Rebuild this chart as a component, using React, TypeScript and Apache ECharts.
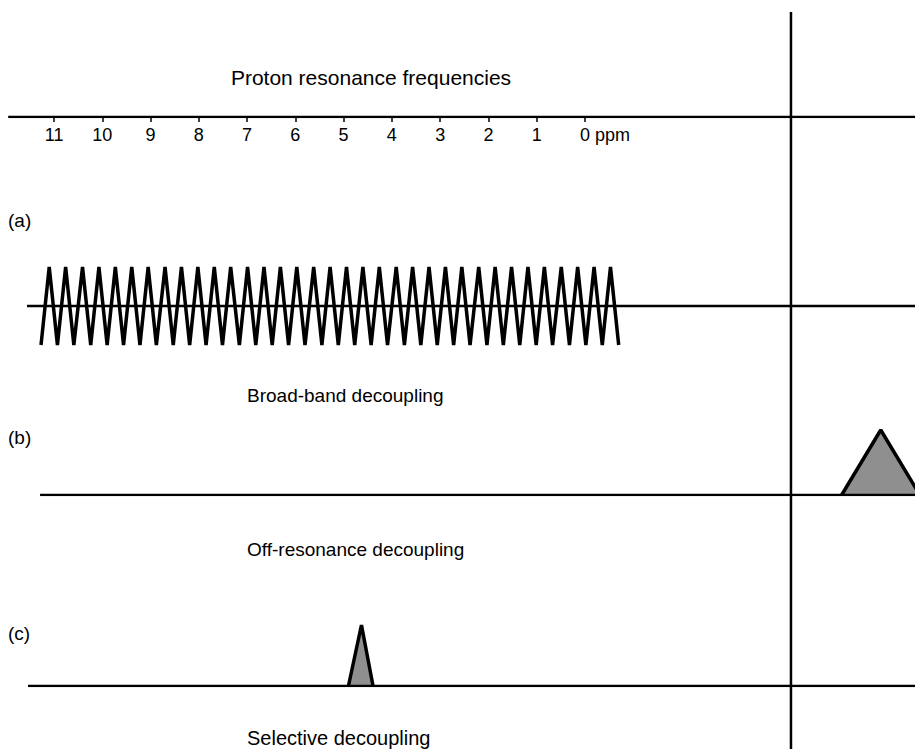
import React, { useEffect, useRef } from "react";
import * as echarts from "echarts";

// ---- data (chemical shift in ppm, relative intensities) ----
const ppmTicks = [11, 10, 9, 8, 7, 6, 5, 4, 3, 2, 1, 0];
const ppmMin = -6.84;
const ppmMax = 12.12;

const broadbandPeaksPpm = [
  11.1, 10.76, 10.41, 10.07, 9.73, 9.39, 9.05, 8.7, 8.36, 8.02, 7.68, 7.34,
  6.99, 6.65, 6.31, 5.97, 5.62, 5.28, 4.94, 4.6, 4.26, 3.91, 3.57, 3.23, 2.89,
  2.55, 2.2, 1.86, 1.52, 1.18, 0.84, 0.49, 0.15, -0.19, -0.53,
];
const broadbandTroughsPpm = [
  11.27, 10.93, 10.59, 10.24, 9.9, 9.56, 9.22, 8.88, 8.53, 8.19, 7.85, 7.51,
  7.16, 6.82, 6.48, 6.14, 5.8, 5.45, 5.11, 4.77, 4.43, 4.09, 3.74, 3.4, 3.06,
  2.72, 2.38, 2.03, 1.69, 1.35, 1.01, 0.67, 0.32, -0.02, -0.36, -0.7,
];
const broadbandPeakLevel = 1;
const broadbandTroughLevel = -1;

const offResonancePpm = [-5.32, -6.13, -6.94];
const offResonanceIntensity = [0, 1, 0];

const selectivePpm = [4.9, 4.63, 4.39];
const selectiveIntensity = [0, 1, 0];

const carbonMarkerPpm = -4.27;

// baselines: [start ppm, end ppm]
const axisBaseline = [11.95, ppmMin];
const baselineA = [11.56, ppmMin];
const baselineB = [11.29, ppmMin];
const baselineC = [11.54, ppmMin];

const labels = {
  title: "Proton resonance frequencies",
  a: "(a)",
  b: "(b)",
  c: "(c)",
  aName: "Broad-band decoupling",
  bName: "Off-resonance decoupling",
  cName: "Selective decoupling",
};

const FONT = "'Liberation Sans', Arial, Helvetica, sans-serif";

export default function App() {
  const ref = useRef<HTMLDivElement>(null);

  useEffect(() => {
    if (!ref.current) return;
    const chart = echarts.init(ref.current, null, { renderer: "svg" });

    const zigzag: number[][] = [];
    for (let i = 0; i < broadbandTroughsPpm.length; i++) {
      zigzag.push([broadbandTroughsPpm[i], broadbandTroughLevel]);
      if (i < broadbandPeaksPpm.length) {
        zigzag.push([broadbandPeaksPpm[i], broadbandPeakLevel]);
      }
    }

    const xBase = (gridIndex: number) => ({
      type: "value" as const,
      gridIndex,
      min: ppmMin,
      max: ppmMax,
      inverse: true,
      show: false,
    });
    const yBase = (gridIndex: number, min: number, max: number) => ({
      type: "value" as const,
      gridIndex,
      min,
      max,
      show: false,
    });

    const black = "#000";
    const lineSeries = (
      xi: number,
      data: number[][],
      width: number,
      extra: any = {}
    ) => ({
      type: "line",
      xAxisIndex: xi,
      yAxisIndex: xi,
      data,
      symbol: "none",
      silent: true,
      lineStyle: { color: black, width },
      ...extra,
    });

    const textStyle = (size: number) => ({
      fill: "#000",
      fontFamily: FONT,
      fontSize: size,
    });

    chart.setOption({
      animation: false,
      backgroundColor: "#fff",
      grid: [
        { left: 0, right: 0, top: 0, height: 117 },
        { left: 0, right: 0, top: 267, height: 78 },
        { left: 0, right: 0, top: 430, height: 65 },
        { left: 0, right: 0, top: 625, height: 61 },
        { left: 0, right: 0, top: 12, bottom: 0 },
      ],
      xAxis: [
        {
          type: "value",
          gridIndex: 0,
          min: ppmMin,
          max: ppmMax,
          inverse: true,
          position: "bottom",
          axisLine: { show: false },
          splitLine: { show: false },
          axisTick: {
            show: true,
            customValues: ppmTicks,
            length: 5,
            lineStyle: { color: black, width: 1.5 },
          },
          axisLabel: {
            show: true,
            customValues: ppmTicks,
            margin: 9,
            color: black,
            fontFamily: FONT,
            fontSize: 18,
            formatter: (v: number) =>
              v === 0 ? "{pad|}{v|0}{u| ppm}" : String(v),
            rich: {
              pad: { width: 40 },
              v: { fontFamily: FONT, fontSize: 18, color: black },
              u: { fontFamily: FONT, fontSize: 18, color: black },
            },
          },
        },
        xBase(1),
        xBase(2),
        xBase(3),
        xBase(4),
      ],
      yAxis: [
        yBase(0, 0, 1),
        yBase(1, -1, 1),
        yBase(2, 0, 1),
        yBase(3, 0, 1),
        yBase(4, 0, 1),
      ],
      series: [
        lineSeries(0, axisBaseline.map((x) => [x, 0]), 2.5),
        lineSeries(1, baselineA.map((x) => [x, 0]), 2.5),
        lineSeries(1, zigzag, 3.5),
        lineSeries(2, baselineB.map((x) => [x, 0]), 2.5),
        lineSeries(
          2,
          offResonancePpm.map((x, i) => [x, offResonanceIntensity[i]]),
          3.5,
          { areaStyle: { color: "#8f8f8f", opacity: 1 }, z: 3 }
        ),
        lineSeries(3, baselineC.map((x) => [x, 0]), 2.5),
        lineSeries(
          3,
          selectivePpm.map((x, i) => [x, selectiveIntensity[i]]),
          3.5,
          { areaStyle: { color: "#8f8f8f", opacity: 1 }, z: 3 }
        ),
        lineSeries(4, [
          [carbonMarkerPpm, 0],
          [carbonMarkerPpm, 1],
        ], 2.5),
      ],
      graphic: [
        {
          type: "text",
          x: 371,
          y: 77,
          style: { text: labels.title, ...textStyle(21), align: "center", verticalAlign: "middle" },
        },
        {
          type: "text",
          x: 8,
          y: 220,
          style: { text: labels.a, ...textStyle(19), verticalAlign: "middle" },
        },
        {
          type: "text",
          x: 247,
          y: 395,
          style: { text: labels.aName, ...textStyle(19), verticalAlign: "middle" },
        },
        {
          type: "text",
          x: 8,
          y: 437,
          style: { text: labels.b, ...textStyle(19), verticalAlign: "middle" },
        },
        {
          type: "text",
          x: 247,
          y: 549,
          style: { text: labels.bName, ...textStyle(19), verticalAlign: "middle" },
        },
        {
          type: "text",
          x: 8,
          y: 633,
          style: { text: labels.c, ...textStyle(19), verticalAlign: "middle" },
        },
        {
          type: "text",
          x: 247,
          y: 738,
          style: { text: labels.cName, ...textStyle(20), verticalAlign: "middle" },
        },
      ],
    });

    return () => chart.dispose();
  }, []);

  return (
    <div
      ref={ref}
      style={{ position: "fixed", left: 0, top: 0, width: 915, height: 749 }}
    />
  );
}
